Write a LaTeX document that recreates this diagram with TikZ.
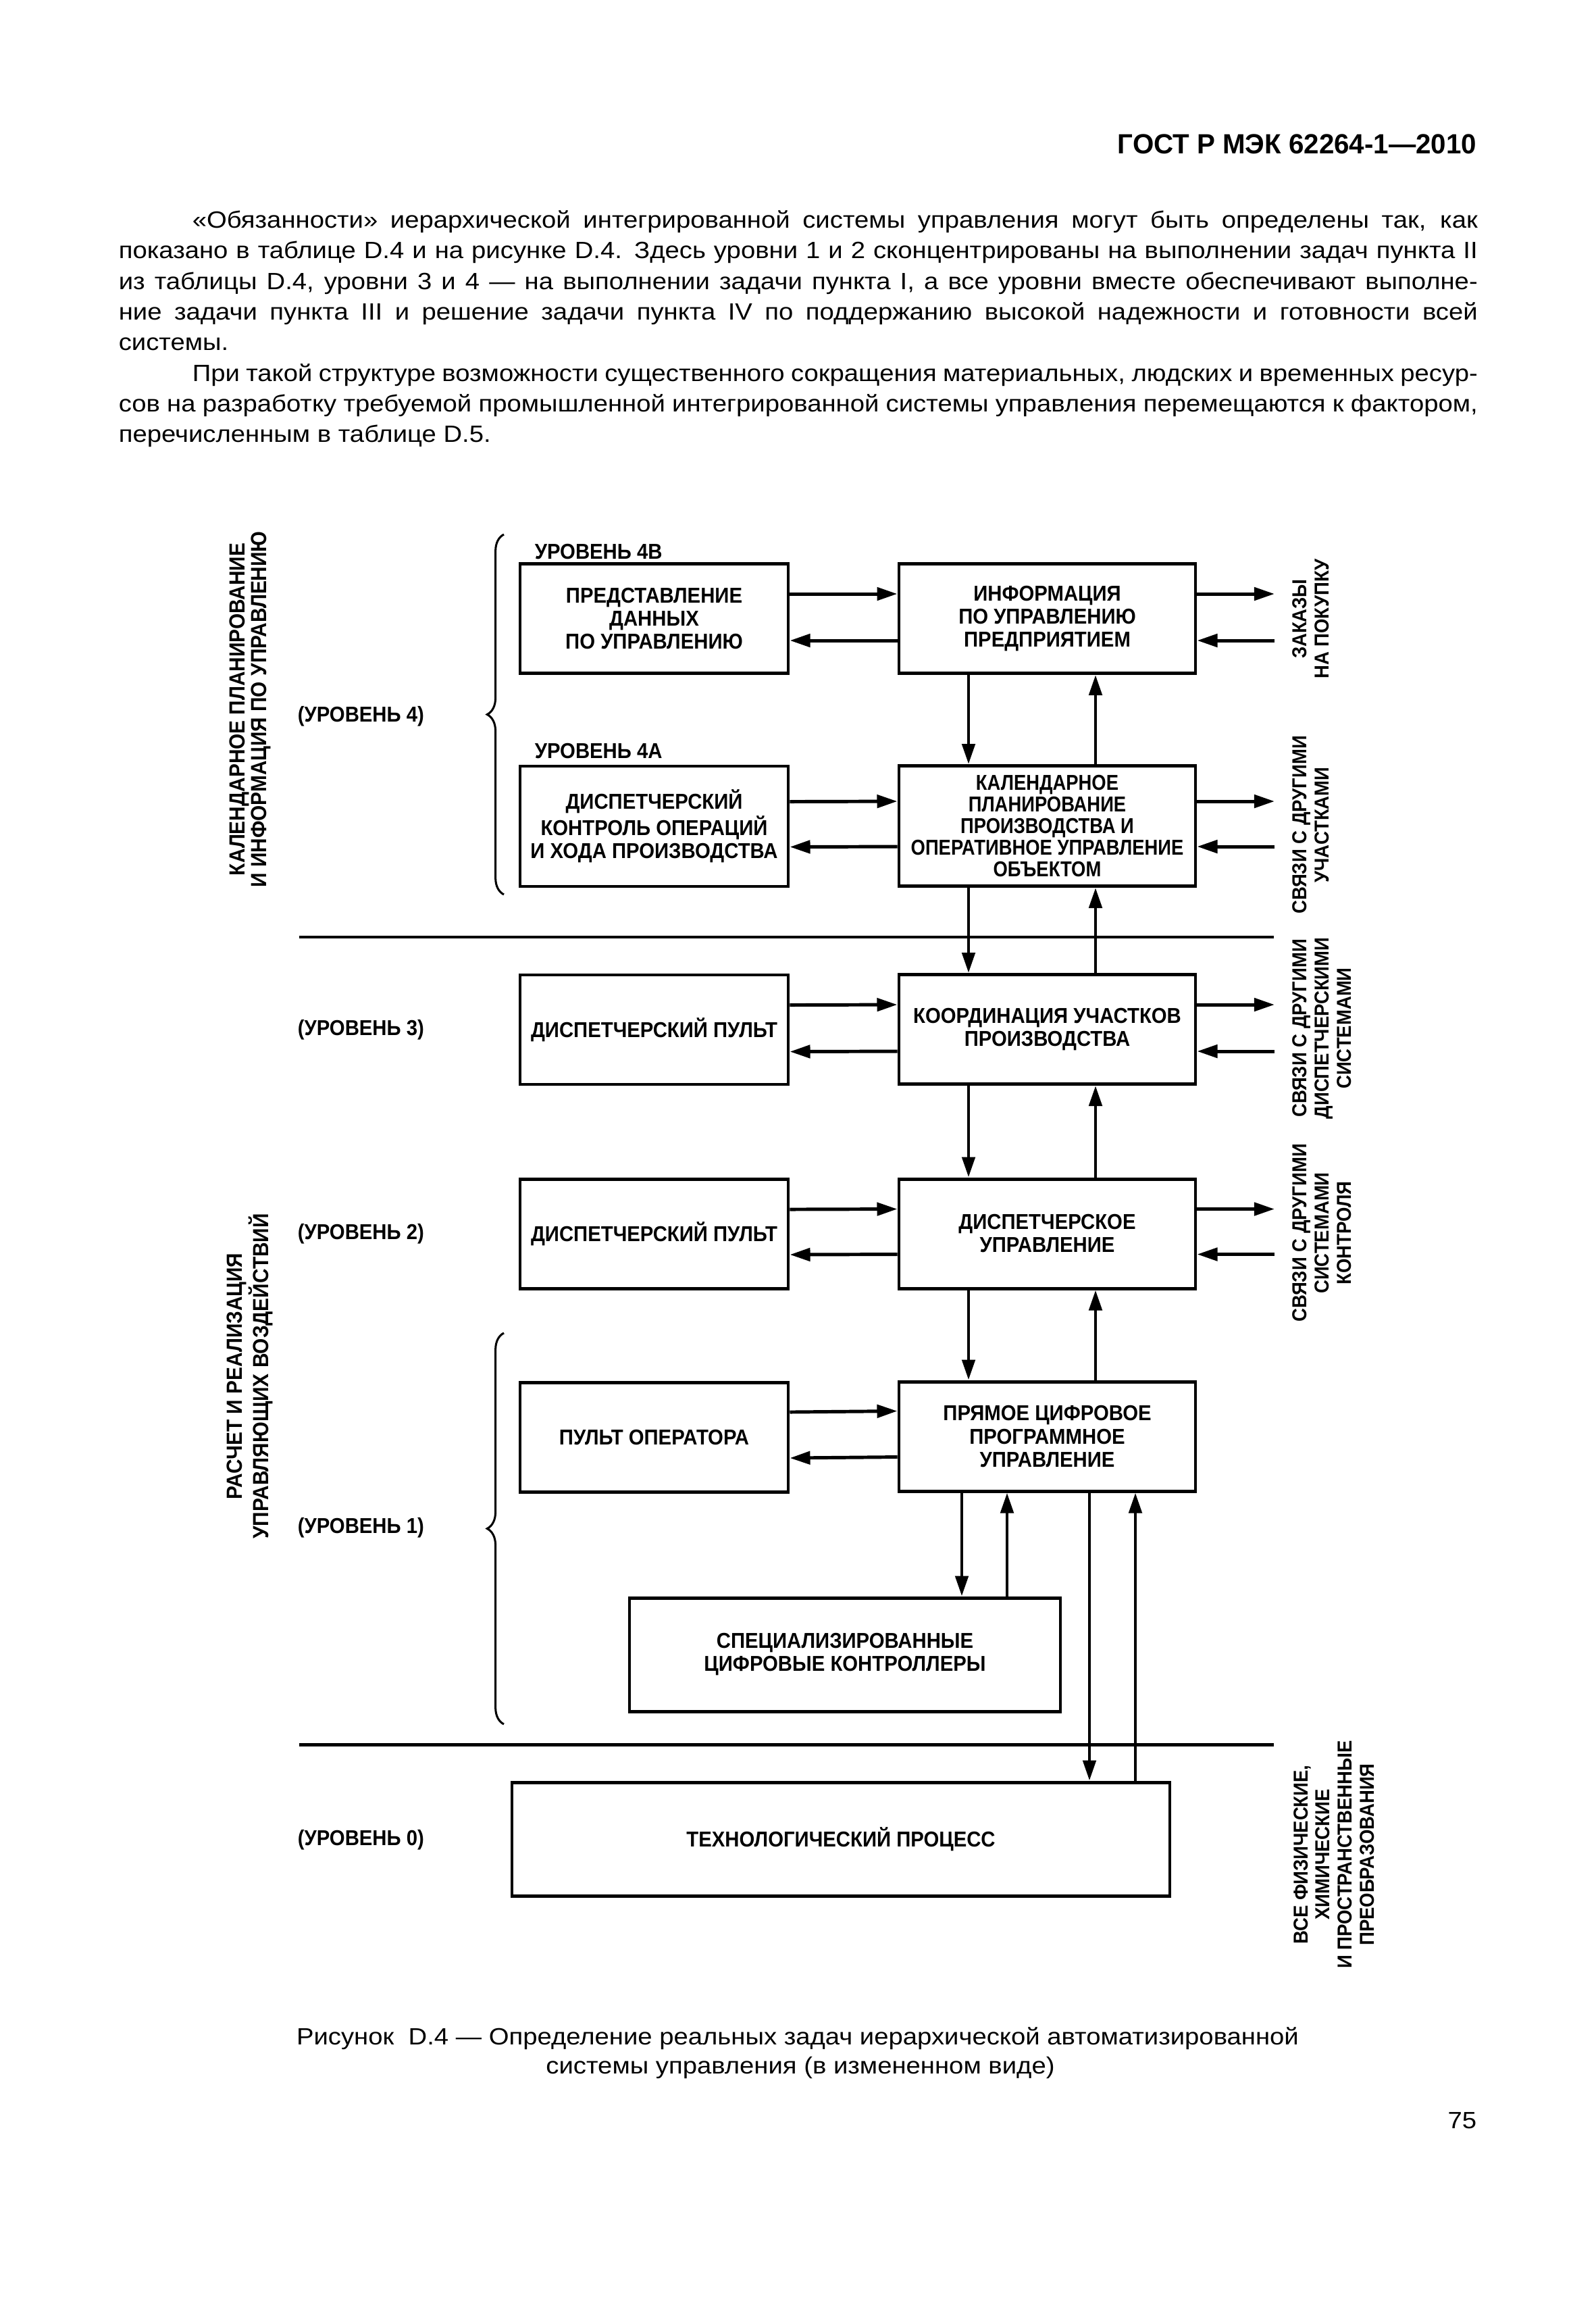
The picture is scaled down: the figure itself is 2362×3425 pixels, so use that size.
\documentclass[tikz,border=0pt]{standalone}
\usepackage{fontspec}
\setmainfont{Liberation Sans}
\newfontfamily\boxfont{Liberation Sans}[FakeStretch=0.92]
\newfontfamily\boxnarrow{Liberation Sans}[FakeStretch=0.86]
\newfontfamily\bodyfont{Liberation Sans}[FakeStretch=1.10]
\newfontfamily\headfont{Liberation Sans}[FakeStretch=0.98]
\usetikzlibrary{arrows.meta,decorations.pathreplacing}
\newdimen\pxl
\pxl=0.0889mm
\tikzset{
  box/.style={draw, line width=0.44mm, inner sep=0pt, align=center,
    minimum height=162*\pxl, font=\boxfont\bfseries\fontsize{8.06}{8.6}\selectfont},
  lbox/.style={box, minimum width=397*\pxl},
  rbox/.style={box, minimum width=439*\pxl},
  arr/.style={line width=0.44mm, -{Triangle[length=2.67mm,width=1.69mm]}},
  sep/.style={line width=0.44mm},
  brc/.style={decorate, decoration={brace,amplitude=2.2mm}, line width=0.27mm},
  rot/.style={rotate=90, align=center, inner sep=0pt,
    font=\boxfont\bfseries\fontsize{7.56}{8.3}\selectfont},
  lrot/.style={rot, font=\boxfont\bfseries\fontsize{8.2}{8.1}\selectfont},
  lvl/.style={anchor=west, inner sep=0pt, font=\boxfont\bfseries\fontsize{8.06}{9}\selectfont},
  ptext/.style={anchor=base west, inner sep=0pt, font=\bodyfont\fontsize{8.8}{10}\selectfont},
  head/.style={anchor=base east, inner sep=0pt, font=\headfont\bfseries\fontsize{10.4}{12}\selectfont}
}
\begin{document}
\begin{tikzpicture}[x=0.0889mm, y=-0.0889mm]
\fill[white] (0,0) rectangle (2362,3425);
\useasboundingbox (0,0) rectangle (2362,3425);

% page head and text
\node[head] (gost) at (2187,227) {ГОСТ Р МЭК 62264-1—2010};
\node[ptext] (t1) at (284,337) {\makebox[1903\pxl][s]{«Обязанности» иерархической интегрированной системы управления могут быть определены так, как}};
\node[ptext] (t2) at (175,382) {\makebox[2012\pxl][s]{показано в таблице D.4 и на рисунке D.4. Здесь уровни 1 и 2 сконцентрированы на выполнении задач пункта II}};
\node[ptext] (t3) at (175,428) {\makebox[2012\pxl][s]{из таблицы D.4, уровни 3 и 4 — на выполнении задачи пункта I, а все уровни вместе обеспечивают выполне-}};
\node[ptext] (t4) at (175,473) {\makebox[2012\pxl][s]{ние задачи пункта III и решение задачи пункта IV по поддержанию высокой надежности и готовности всей}};
\node[ptext] (t5) at (175,518) {системы.};
\node[ptext] (t6) at (284,564) {\makebox[1903\pxl][s]{При такой структуре возможности существенного сокращения материальных, людских и временных ресур-}};
\node[ptext] (t7) at (175,609) {\makebox[2012\pxl][s]{сов на разработку требуемой промышленной интегрированной системы управления перемещаются к фактором,}};
\node[ptext] (t8) at (175,654) {перечисленным в таблице D.5.};

% side labels
\node[lrot] (plan) at (370,1050) {КАЛЕНДАРНОЕ ПЛАНИРОВАНИЕ\\И ИНФОРМАЦИЯ ПО УПРАВЛЕНИЮ};
\node[lrot] (rasch) at (370,2037) {РАСЧЕТ И РЕАЛИЗАЦИЯ\\УПРАВЛЯЮЩИХ ВОЗДЕЙСТВИЙ};
\node[rot] (zak) at (1941,916) {ЗАКАЗЫ\\НА ПОКУПКУ};
\node[rot] (uch) at (1941,1221) {СВЯЗИ С ДРУГИМИ\\УЧАСТКАМИ};
\node[rot] (dsp) at (1957,1522) {СВЯЗИ С ДРУГИМИ\\ДИСПЕТЧЕРСКИМИ\\СИСТЕМАМИ};
\node[rot] (kon) at (1957,1825) {СВЯЗИ С ДРУГИМИ\\СИСТЕМАМИ\\КОНТРОЛЯ};
\node[rot] (vse) at (1975,2745) {ВСЕ ФИЗИЧЕСКИЕ,\\ХИМИЧЕСКИЕ\\И ПРОСТРАНСТВЕННЫЕ\\ПРЕОБРАЗОВАНИЯ};

% levels
\node[lvl] (l4) at (440,1060) {(УРОВЕНЬ 4)};
\node[lvl] (l3) at (440,1524) {(УРОВЕНЬ 3)};
\node[lvl] (l2) at (440,1826) {(УРОВЕНЬ 2)};
\node[lvl] (l1) at (440,2261) {(УРОВЕНЬ 1)};
\node[lvl] (l0) at (440,2723) {(УРОВЕНЬ 0)};
\node[lvl] (l4b) at (791,817) {УРОВЕНЬ 4В};
\node[lvl] (l4a) at (791,1112) {УРОВЕНЬ 4А};
\draw[brc] (746,1324) -- (746,791);
\draw[brc] (746,2552) -- (746,1973);
\draw[sep] (443,1387) -- (1886,1387);
\draw[sep] (443,2582) -- (1886,2582);

% boxes
\node[lbox] (pred) at (968.5,915.5) {ПРЕДСТАВЛЕНИЕ\\ДАННЫХ\\ПО УПРАВЛЕНИЮ};
\node[lbox, minimum height=178*\pxl] (kontr) at (968.5,1223) {ДИСПЕТЧЕРСКИЙ\\КОНТРОЛЬ ОПЕРАЦИЙ\\И ХОДА ПРОИЗВОДСТВА};
\node[lbox] (pult3) at (968.5,1524) {ДИСПЕТЧЕРСКИЙ ПУЛЬТ};
\node[lbox] (pult2) at (968.5,1826.5) {ДИСПЕТЧЕРСКИЙ ПУЛЬТ};
\node[lbox] (pult1) at (968.5,2127.5) {ПУЛЬТ ОПЕРАТОРА};
\node[rbox] (info) at (1550.5,915.5) {ИНФОРМАЦИЯ\\ПО УПРАВЛЕНИЮ\\ПРЕДПРИЯТИЕМ};
\node[rbox, minimum height=178*\pxl, font=\boxnarrow\bfseries\fontsize{8.06}{8.1}\selectfont] (kal) at (1550.5,1222.5) {КАЛЕНДАРНОЕ\\ПЛАНИРОВАНИЕ\\ПРОИЗВОДСТВА И\\ОПЕРАТИВНОЕ УПРАВЛЕНИЕ\\ОБЪЕКТОМ};
\node[rbox] (koord) at (1550.5,1523.5) {КООРДИНАЦИЯ УЧАСТКОВ\\ПРОИЗВОДСТВА};
\node[rbox] (disp) at (1550.5,1826) {ДИСПЕТЧЕРСКОЕ\\УПРАВЛЕНИЕ};
\node[rbox] (pryam) at (1550.5,2126) {ПРЯМОЕ ЦИФРОВОЕ\\ПРОГРАММНОЕ\\УПРАВЛЕНИЕ};
\node[box, minimum width=638*\pxl, minimum height=168*\pxl] (spec) at (1251,2449) {СПЕЦИАЛИЗИРОВАННЫЕ\\ЦИФРОВЫЕ КОНТРОЛЛЕРЫ};
\node[box, minimum width=974*\pxl, minimum height=168*\pxl] (tech) at (1245,2722) {ТЕХНОЛОГИЧЕСКИЙ ПРОЦЕСС};

% arrows between columns
\foreach \lf/\rt/\ya/\yb in {pred/info/47/116, kontr/kal/55/122, pult3/koord/47/116, pult2/disp/47/114, pult1/pryam/46/114}{
  \draw[arr] ([yshift=-\ya*\pxl]\lf.north east) -- ([yshift=-\ya*\pxl]\rt.north west);
  \draw[arr] ([yshift=-\yb*\pxl]\rt.north west) -- ([yshift=-\yb*\pxl]\lf.north east);
}
% arrows to the outside
\coordinate (rim) at (1887,0);
\foreach \rt/\ya/\yb in {info/47/116, kal/55/122, koord/47/116, disp/47/114}{
  \path ([yshift=-\ya*\pxl]\rt.north east) coordinate (pa)
        ([yshift=-\yb*\pxl]\rt.north east) coordinate (pb);
  \draw[arr] (pa) -- (pa -| rim);
  \draw[arr] (pb -| rim) -- (pb);
}
% arrows between levels
\foreach \up/\dn in {info/kal, kal/koord, koord/disp, disp/pryam}{
  \draw[arr] ([xshift=-116.5*\pxl]\up.south) -- ([xshift=-116.5*\pxl]\dn.north);
  \draw[arr] ([xshift=71.5*\pxl]\dn.north) -- ([xshift=71.5*\pxl]\up.south);
}
\path ([xshift=-126.5*\pxl]pryam.south) coordinate (s1)
      ([xshift=-59.5*\pxl]pryam.south) coordinate (s2)
      ([xshift=62.5*\pxl]pryam.south) coordinate (s3)
      ([xshift=130.5*\pxl]pryam.south) coordinate (s4);
\draw[arr] (s1) -- (s1 |- spec.north);
\draw[arr] (s2 |- spec.north) -- (s2);
\draw[arr] (s3) -- (s3 |- tech.north);
\draw[arr] (s4 |- tech.north) -- (s4);

% caption
\node[ptext, anchor=base] (cap1) at (1181,3026) {Рисунок\ \ D.4 — Определение реальных задач иерархической автоматизированной};
\node[ptext, anchor=base] (cap2) at (1185,3069) {системы управления (в измененном виде)};
\node[ptext, anchor=base east] (pg) at (2187,3150) {75};
\end{tikzpicture}
\end{document}
